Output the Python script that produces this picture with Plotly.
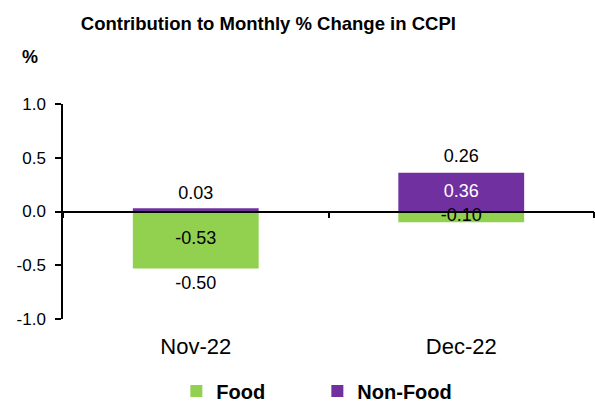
import plotly.graph_objects as go

categories = ["Nov-22", "Dec-22"]
food = [-0.53, -0.10]
non_food = [0.03, 0.36]
y_ticks = [-1.0, -0.5, 0.0, 0.5, 1.0]

total = [round(f + n, 2) for f, n in zip(food, non_food)]

FONT = "Arial, Liberation Sans, sans-serif"
GREEN = "#92D050"
PURPLE = "#7030A0"

fig = go.Figure()
fig.add_trace(go.Bar(x=categories, y=food, name="Food", marker=dict(color=GREEN, line=dict(width=0)),
                     width=0.474))
fig.add_trace(go.Bar(x=categories, y=non_food, name="Non-Food", marker=dict(color=PURPLE, line=dict(width=0)),
                     width=0.474))

# Food labels (centered in the food segment)
fig.add_trace(go.Scatter(x=categories, y=[f / 2 for f in food], mode="text",
                         text=[f"{v:.2f}" for v in food], textposition="middle center",
                         textfont=dict(family=FONT, size=18, color="black"),
                         showlegend=False, hoverinfo="skip", cliponaxis=False))

# Non-food labels: inside if the bar is tall enough, otherwise above
nf_in_x, nf_in_y, nf_in_t, nf_out_x, nf_out_y, nf_out_t = [], [], [], [], [], []
for c, n in zip(categories, non_food):
    if abs(n) >= 0.15:
        nf_in_x.append(c); nf_in_y.append(n / 2); nf_in_t.append(f"{n:.2f}")
    else:
        nf_out_x.append(c); nf_out_y.append(n); nf_out_t.append(f"{n:.2f}")
fig.add_trace(go.Scatter(x=nf_in_x, y=nf_in_y, mode="text", text=nf_in_t, textposition="middle center",
                         textfont=dict(family=FONT, size=18, color="white"),
                         showlegend=False, hoverinfo="skip", cliponaxis=False))
fig.add_trace(go.Scatter(x=nf_out_x, y=nf_out_y, mode="markers+text", text=nf_out_t, textposition="top center",
                         marker=dict(size=6, opacity=0),
                         textfont=dict(family=FONT, size=18, color="black"),
                         showlegend=False, hoverinfo="skip", cliponaxis=False))

# Totals: placed beyond the end of the stack in the direction of the total
tot_x, tot_y, tot_t, tot_pos = [], [], [], []
for c, f, n, t in zip(categories, food, non_food, total):
    tot_x.append(c)
    tot_t.append(f"{t:.2f}")
    if t < 0:
        tot_y.append(f); tot_pos.append("bottom center")
    else:
        tot_y.append(n); tot_pos.append("top center")
fig.add_trace(go.Scatter(x=tot_x, y=tot_y, mode="markers+text", text=tot_t, textposition=tot_pos,
                         marker=dict(size=9, opacity=0),
                         textfont=dict(family=FONT, size=18, color="black"),
                         showlegend=False, hoverinfo="skip", cliponaxis=False))

fig.update_layout(
    width=595, height=403,
    margin=dict(l=63, r=1, t=104, b=84, autoexpand=False),
    barmode="relative",
    plot_bgcolor="white", paper_bgcolor="white",
    font=dict(family=FONT, color="black"),
    title=dict(text="<b>Contribution to Monthly % Change in CCPI</b>",
               font=dict(family=FONT, size=18.5, color="black"),
               x=0.451, xanchor="center", y=0.942, yanchor="middle"),
    legend=dict(orientation="h", x=0.479, xanchor="center", y=-0.335, yanchor="middle",
                font=dict(family=FONT, size=20, color="black", weight="bold"),
                entrywidth=96, entrywidthmode="pixels",
                traceorder="normal", bgcolor="rgba(0,0,0,0)"),
    xaxis=dict(type="category", anchor="free", position=0.5, automargin=False,
               showline=True, linecolor="black", linewidth=1.5,
               ticks="outside", tickson="boundaries", ticklen=6, tickcolor="black", tickwidth=1.5,
               tickfont=dict(family=FONT, size=22, color="black"),
               ticklabelstandoff=115, showgrid=False, zeroline=False),
    yaxis=dict(range=[-1.0, 1.0], tickvals=y_ticks, ticktext=[f"{v:.1f}" for v in y_ticks],
               automargin=False,
               showline=True, linecolor="black", linewidth=1.5,
               ticks="outside", ticklen=6, tickcolor="black", tickwidth=1.5,
               tickfont=dict(family=FONT, size=17, color="black"),
               ticklabelstandoff=6,
               showgrid=False, zeroline=False),
    annotations=[dict(text="<b>%</b>", xref="paper", yref="paper", x=-0.062, y=1.219,
                      xanchor="center", yanchor="middle", showarrow=False,
                      font=dict(family=FONT, size=18, color="black"))],
)

fig.write_html("out.html", config={"displayModeBar": False},
               post_script="document.body.style.margin='0px';document.body.style.overflow='hidden';")
